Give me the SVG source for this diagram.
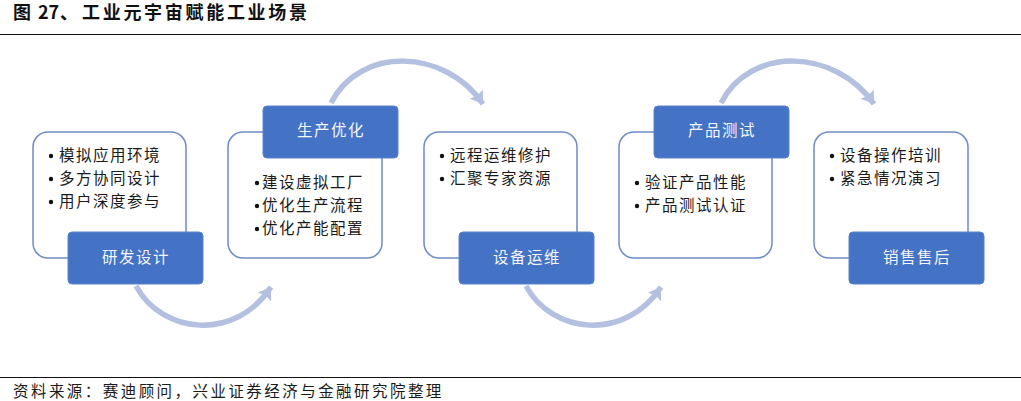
<svg xmlns="http://www.w3.org/2000/svg" width="1021" height="401" viewBox="0 0 1021 401">
<style>
text{font-family:"Noto Sans CJK SC","Liberation Sans",sans-serif}
.card{fill:#fff;stroke:#6f8cc6;stroke-width:1.5}
.head{fill:#4472c4;stroke:#5b84cc;stroke-width:1}
.lab{fill:#f4f6fb;font-size:15.5px;letter-spacing:1.5px;text-anchor:middle}
.item{fill:#1a1a1a;font-size:15.5px;letter-spacing:1.5px}
.dot{fill:#111}
.arc{fill:none;stroke:#b4c0e0;stroke-width:5.5;marker-end:url(#ah)}
.rule{stroke:#111;stroke-width:1}
</style>
<defs>
<marker id="ah" markerUnits="userSpaceOnUse" markerWidth="14" markerHeight="16" refX="12" refY="8" orient="auto">
<path d="M0 0L12 8L0 16L2 8Z" fill="#b4c0e0"/>
</marker>
</defs>
<rect width="1021" height="401" fill="#fff"/>
<text x="13" y="19" font-size="18" font-weight="700" fill="#111">图<tspan x="38">27</tspan><tspan x="60">、</tspan><tspan x="82" letter-spacing="2.7">工业元宇宙赋能工业场景</tspan></text>
<line class="rule" x1="0" y1="34.5" x2="1021" y2="34.5"/>
<g id="connectors">
<path class="arc" d="M136 286C162 334 235 342 271 287"/>
<path class="arc" d="M331 103C360 46 445 48 483 104"/>
<path class="arc" d="M526 286C552 334 625 342 661 287"/>
<path class="arc" d="M721 103C750 46 835 48 874 104"/>
</g>
<g id="node-1">
<rect class="card" x="33" y="132" width="153" height="126" rx="15"/>
<rect class="head" x="68" y="232" width="135" height="52" rx="4"/>
<text class="lab" x="136" y="263">研发设计</text>
<circle class="dot" cx="51" cy="156" r="2.2"/><text class="item" x="59" y="161">模拟应用环境</text>
<circle class="dot" cx="51" cy="179" r="2.2"/><text class="item" x="59" y="184">多方协同设计</text>
<circle class="dot" cx="51" cy="202" r="2.2"/><text class="item" x="59" y="207">用户深度参与</text>
</g>
<g id="node-2">
<rect class="card" x="228" y="132" width="154" height="126" rx="15"/>
<rect class="head" x="263" y="106" width="135" height="52" rx="4"/>
<text class="lab" x="331" y="136">生产优化</text>
<circle class="dot" cx="257" cy="183" r="2.2"/><text class="item" x="262" y="188">建设虚拟工厂</text>
<circle class="dot" cx="257" cy="206" r="2.2"/><text class="item" x="262" y="211">优化生产流程</text>
<circle class="dot" cx="257" cy="229" r="2.2"/><text class="item" x="262" y="234">优化产能配置</text>
</g>
<g id="node-3">
<rect class="card" x="424" y="132" width="153" height="126" rx="15"/>
<rect class="head" x="459" y="232" width="135" height="52" rx="4"/>
<text class="lab" x="527" y="263">设备运维</text>
<circle class="dot" cx="442" cy="156" r="2.2"/><text class="item" x="450" y="161">远程运维修护</text>
<circle class="dot" cx="442" cy="179" r="2.2"/><text class="item" x="450" y="184">汇聚专家资源</text>
</g>
<g id="node-4">
<rect class="card" x="619" y="132" width="153" height="126" rx="15"/>
<rect class="head" x="654" y="106" width="135" height="52" rx="4"/>
<text class="lab" x="722" y="136">产品测试</text>
<circle class="dot" cx="637" cy="183" r="2.2"/><text class="item" x="645" y="188">验证产品性能</text>
<circle class="dot" cx="637" cy="206" r="2.2"/><text class="item" x="645" y="211">产品测试认证</text>
</g>
<g id="node-5">
<rect class="card" x="814" y="132" width="154" height="126" rx="15"/>
<rect class="head" x="849" y="232" width="135" height="52" rx="4"/>
<text class="lab" x="917" y="263">销售售后</text>
<circle class="dot" cx="832" cy="156" r="2.2"/><text class="item" x="840" y="161">设备操作培训</text>
<circle class="dot" cx="832" cy="179" r="2.2"/><text class="item" x="840" y="184">紧急情况演习</text>
</g>
<line class="rule" x1="0" y1="377.5" x2="1021" y2="377.5"/>
<text x="13" y="397" font-size="15.5" fill="#1a1a1a" letter-spacing="2.45">资料来源：赛迪顾问，兴业证券经济与金融研究院整理</text>
</svg>
